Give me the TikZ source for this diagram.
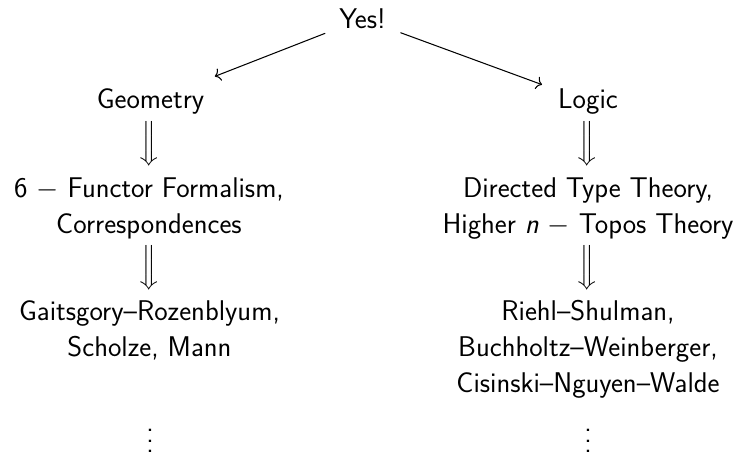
\documentclass[tikz,border=0pt]{standalone}
\usepackage{fix-cm}
\usepackage{exscale}
\usepackage{fontspec}
\usetikzlibrary{arrows.meta}
\newcommand{\myvdots}{\vbox{\baselineskip=10.5pt\lineskiplimit=0pt\hbox{.}\hbox{.}\hbox{.}}}
\newcommand{\bigdarr}{{\fontsize{26}{30}\selectfont$\delimitershortfall=0pt\delimiterfactor=1000\left\Downarrow\vrule height 25.5pt depth 12.5pt width 0pt\right.$}}
\begin{document}
\begin{tikzpicture}[x=1pt,y=-1pt,
  every node/.style={font=\sffamily\fontsize{28.5}{36}\selectfont, align=center, inner sep=0pt},
  txt/.style={anchor=base},
  arr/.style={-{To[length=5.5pt,width=13pt]}, line width=1.04pt}]
\useasboundingbox (0,0) rectangle (744,456);
\node[txt] (yes) at (362.5,28.5) {Yes!};
\node[txt] (geo) at (150.5,108.5) {Geometry};
\node[txt] (logic) at (588,108.5) {Logic};
\node (dl1) at (150,144) {\bigdarr};
\node (dr1) at (588,144) {\bigdarr};
\node[txt] (six) at (149,233) {6 $-$ Functor Formalism,\\Correspondences};
\node[txt] (dtt) at (588,233) {Directed Type Theory,\\Higher \textit{n} $-$ Topos Theory};
\node (dl2) at (150,268) {\bigdarr};
\node (dr2) at (588,268) {\bigdarr};
\node[txt] (gr) at (149.5,356) {Gaitsgory--Rozenblyum,\\Scholze, Mann};
\node[txt] (rs) at (588,392) {Riehl--Shulman,\\Buchholtz--Weinberger,\\Cisinski--Nguyen--Walde};
\node (vl) at (150,441) {\myvdots};
\node (vr) at (588,441) {\myvdots};
\draw[arr, shorten <=40pt, shorten >=69pt] (yes.center) -- (geo.center);
\draw[arr, shorten <=40.5pt, shorten >=49pt] (yes.center) -- (logic.center);
\end{tikzpicture}
\end{document}
